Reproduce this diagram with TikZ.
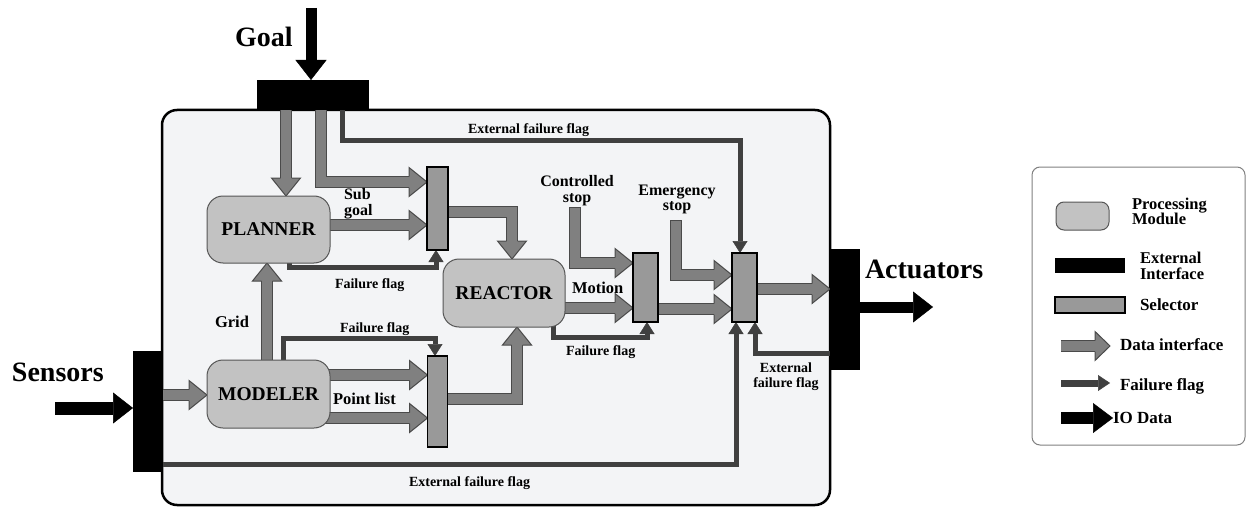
\documentclass[tikz,border=0pt]{standalone}
\usepackage{fontspec}
\setmainfont{Liberation Serif}
\usetikzlibrary{arrows.meta,calc}
\newcommand\tightlines{\lineskiplimit=-20pt\relax}
\definecolor{boxfill}{HTML}{F3F4F6}
\definecolor{modfill}{HTML}{C2C2C2}
\definecolor{modborder}{HTML}{555555}
\definecolor{selfill}{HTML}{999999}
\definecolor{datafill}{HTML}{808080}
\definecolor{dataline}{HTML}{4A4A4A}
\definecolor{flagc}{HTML}{404040}
\definecolor{legline}{HTML}{808080}
\pgfdeclarelayer{back}
\pgfdeclarelayer{conn}
\pgfsetlayers{back,conn,main}
\begin{document}
\begin{tikzpicture}[x=1pt,y=-1pt,
  every node/.style={inner sep=0pt, outer sep=0pt},
  mainbox/.style={draw=black, line width=2.5pt, fill=boxfill, rounded corners=15pt, minimum width=668pt, minimum height=395pt},
  extif/.style={fill=black, draw=none},
  module/.style={draw=modborder, fill=modfill, line width=1pt, rounded corners=16pt, minimum width=123pt, minimum height=67pt, font=\fontsize{19.5}{20}\selectfont\bfseries},
  selbox/.style={draw=black, fill=selfill, line width=1.8pt},
  dshaft/.style={draw=dataline, line width=1pt, double=datafill, double distance=10pt, line join=miter, shorten >=17pt},
  flag/.style={draw=flagc, line width=5pt, line join=miter, -{Triangle[width=15pt,length=12pt,line width=0.5pt]}},
  io/.style={draw=black, line width=11pt, -{Triangle[width=31pt,length=20pt,line width=0.5pt]}},
  lblbig/.style={font=\fontsize{28}{30}\selectfont\bfseries},
  lblmid/.style={font=\fontsize{16.5}{15.5}\selectfont\bfseries\tightlines},
  lblmidtwo/.style={font=\fontsize{16}{15.5}\selectfont\bfseries\tightlines},
  lblsmall/.style={font=\fontsize{14}{14.5}\selectfont\bfseries\tightlines},
  lblleg/.style={font=\fontsize{17}{15.5}\selectfont\bfseries\tightlines},
  lbllegtwo/.style={font=\fontsize{16.5}{15.5}\selectfont\bfseries\tightlines},
  dhead/.pic={
    \fill[datafill] (-18,-14.5) -- (0,0) -- (-18,14.5) -- cycle;
    \draw[dataline, line width=1pt, line join=miter] (-18,-5.5) -- (-18,-14.5) -- (0,0) -- (-18,14.5) -- (-18,5.5);
  },
  dheadsmall/.pic={
    \fill[datafill] (-15,-14.5) -- (0,0) -- (-15,14.5) -- cycle;
    \draw[dataline, line width=1pt, line join=miter] (-15,-5.5) -- (-15,-14.5) -- (0,0) -- (-15,14.5) -- (-15,5.5);
  }
]
\useasboundingbox (0,0) rectangle (1247,508);

\begin{pgfonlayer}{back}
\node[mainbox] (main) at (496,307.5) {};
\node[draw=legline, line width=1pt, fill=white, rounded corners=8pt, minimum width=213pt, minimum height=278pt] (leg) at (1138.5,306) {};
\end{pgfonlayer}

% external interfaces
\node[extif, minimum width=112pt, minimum height=30pt] (goalif) at (313,95) {};
\node[extif, minimum width=30pt, minimum height=121pt] (senseif) at (148,411.5) {};
\node[extif, minimum width=30pt, minimum height=121pt] (actif) at (845,309.5) {};

% modules
\node[module] (planner) at (268.5,229.5) {PLANNER};
\node[module, minimum height=68pt] (modeler) at (268.5,394) {MODELER};
\node[module, minimum width=122pt, minimum height=68pt] (reactor) at (504,293) {REACTOR};

% selectors
\node[selbox, minimum width=21pt, minimum height=83pt] (sel1) at (437.5,208.5) {};
\node[selbox, minimum width=20pt, minimum height=91pt] (sel2) at (437.5,401.5) {};
\node[selbox, minimum width=25pt, minimum height=69pt] (sel3) at (645.5,287.5) {};
\node[selbox, minimum width=25pt, minimum height=69pt] (sel4) at (744.5,287.5) {};

% labels
\node[lblbig, anchor=base west] (tgoal) at (235,47) {Goal};
\node[lblbig, anchor=base west] (tsens) at (12,381) {Sensors};
\node[lblbig, anchor=base west] (tact) at (865,278) {Actuators};

\node[lblmidtwo, align=left, anchor=north west] (tsub) at (344,188.4) {Sub\\goal};
\node[lblmid, anchor=base west] (tgrid) at (215,327) {Grid};
\node[lblmid, anchor=base west] (tpoint) at (333,404) {Point list};
\node[lblmidtwo, align=center, anchor=north] (tctrl) at (577,175.4) {Controlled\\stop};
\node[lblmidtwo, align=center, anchor=north] (temerg) at (677,184.6) {Emergency\\stop};
\node[lblmid, anchor=base west] (tmotion) at (572,293) {Motion};

\node[lblsmall, anchor=base west] (text1) at (468,133) {External failure flag};
\node[lblsmall, anchor=base west] (tff1) at (335,288) {Failure flag};
\node[lblsmall, anchor=base west] (tff2) at (340,332) {Failure flag};
\node[lblsmall, anchor=base west] (tff3) at (566,355) {Failure flag};
\node[lblsmall, anchor=base west] (text2) at (409,486) {External failure flag};
\node[lblsmall, align=center, anchor=north] (text3) at (786,363.2) {External\\failure flag};

% legend items
\node[draw=modborder, fill=modfill, line width=1pt, rounded corners=8pt, minimum width=53pt, minimum height=28pt] (lproc) at (1082.5,216) {};
\node[extif, minimum width=70pt, minimum height=15pt] (lext) at (1090,265.5) {};
\node[selbox, line width=1.2pt, minimum width=70pt, minimum height=16pt] (lsel) at (1090,305) {};
\node[lbllegtwo, align=left, anchor=north west] (tl1) at (1132,197.9) {Processing\\Module};
\node[lbllegtwo, align=left, anchor=north west] (tl2) at (1140,252.1) {External\\Interface};
\node[lblleg, anchor=base west] (tl3) at (1140,310) {Selector};
\node[lblleg, anchor=base west] (tl4) at (1120,350) {Data interface};
\node[lblleg, anchor=base west] (tl5) at (1120,390) {Failure flag};
\node[lblleg, anchor=base west] (tl6) at (1113,423) {IO Data};

% helper coordinates
\coordinate (xg1) at (286,0);
\coordinate (xg2) at (321,0);
\coordinate (yg2) at (0,182);
\coordinate (ya3) at (0,225);
\coordinate (ya4) at (0,212);
\coordinate (xa4) at (512,0);
\coordinate (xa5) at (267,0);
\coordinate (ya6) at (0,395);
\coordinate (ya7) at (0,375);
\coordinate (ya8) at (0,418);
\coordinate (ya9) at (0,399);
\coordinate (xa9) at (517,0);
\coordinate (ya10) at (0,308);
\coordinate (cs) at (575,207);
\coordinate (ya11) at (0,263);
\coordinate (ya12) at (0,309);
\coordinate (es) at (676,220);
\coordinate (ya13) at (0,275);
\coordinate (ya14) at (0,289);
\coordinate (xf1) at (342,0);
\coordinate (yf1) at (0,141);
\coordinate (xf1b) at (740,0);
\coordinate (xf2) at (289,0);
\coordinate (yf2) at (0,267);
\coordinate (xf2b) at (436,0);
\coordinate (xf3) at (283,0);
\coordinate (yf3) at (0,338);
\coordinate (xf3b) at (435,0);
\coordinate (xf4) at (553,0);
\coordinate (yf4) at (0,337);
\coordinate (xf4b) at (647,0);
\coordinate (yf5) at (0,464);
\coordinate (xf5) at (736,0);
\coordinate (yf6) at (0,353);
\coordinate (xf6) at (755,0);
\coordinate (goalin) at (311,8);
\coordinate (sensin) at (55,408);
\coordinate (actout) at (933,307);
\coordinate (ld1) at (1061,346);
\coordinate (ld2) at (1110,346);
\coordinate (lf1) at (1061,383);
\coordinate (lf2) at (1110,383);
\coordinate (li1) at (1061,418);
\coordinate (li2) at (1113,418);

\begin{pgfonlayer}{conn}
% data interfaces
\draw[dshaft] (goalif.south -| xg1) -- (planner.north -| xg1);
\draw[dshaft] (goalif.south -| xg2) -- (xg2 |- yg2) -- (sel1.west |- yg2);
\draw[dshaft] (planner.center |- ya3) -- (sel1.west |- ya3);
\draw[dshaft] (sel1.center |- ya4) -- (xa4 |- ya4) -- (reactor.north -| xa4);
\draw[dshaft] (modeler.center -| xa5) -- (planner.south -| xa5);
\draw[dshaft] (senseif.center |- ya6) -- (modeler.west |- ya6);
\draw[dshaft] (modeler.center |- ya7) -- (sel2.west |- ya7);
\draw[dshaft] (modeler.center |- ya8) -- (sel2.west |- ya8);
\draw[dshaft] (sel2.center |- ya9) -- (xa9 |- ya9) -- (reactor.south -| xa9);
\draw[dshaft] (reactor.center |- ya10) -- (sel3.west |- ya10);
\draw[dshaft] (cs) -- (cs |- ya11) -- (sel3.west |- ya11);
\draw[dataline, line width=1pt] ($(cs)+(-6,0)$) -- ($(cs)+(6,0)$);
\draw[dshaft] (sel3.center |- ya12) -- (sel4.west |- ya12);
\draw[dshaft] (es) -- (es |- ya13) -- (sel4.west |- ya13);
\draw[dataline, line width=1pt] ($(es)+(-6,0)$) -- ($(es)+(6,0)$);
\draw[dshaft] (sel4.center |- ya14) -- (actif.west |- ya14);

\pic[rotate=-90] at (planner.north -| xg1) {dhead};
\pic at (sel1.west |- yg2) {dhead};
\pic at (sel1.west |- ya3) {dhead};
\pic[rotate=-90] at (reactor.north -| xa4) {dhead};
\pic[rotate=90] at (planner.south -| xa5) {dhead};
\pic at (modeler.west |- ya6) {dhead};
\pic at (sel2.west |- ya7) {dhead};
\pic at (sel2.west |- ya8) {dhead};
\pic[rotate=90] at (reactor.south -| xa9) {dhead};
\pic at (sel3.west |- ya10) {dhead};
\pic at (sel3.west |- ya11) {dhead};
\pic at (sel4.west |- ya12) {dhead};
\pic at (sel4.west |- ya13) {dhead};
\pic at (actif.west |- ya14) {dhead};

% failure flags
\draw[flag] (goalif.center -| xf1) -- (xf1 |- yf1) -- (xf1b |- yf1) -- (sel4.north -| xf1b);
\draw[flag] (planner.center -| xf2) -- (xf2 |- yf2) -- (xf2b |- yf2) -- (sel1.south -| xf2b);
\draw[flag] (modeler.center -| xf3) -- (xf3 |- yf3) -- (xf3b |- yf3) -- (sel2.north -| xf3b);
\draw[flag] (reactor.center -| xf4) -- (xf4 |- yf4) -- (xf4b |- yf4) -- (sel3.south -| xf4b);
\draw[flag] (senseif.center |- yf5) -- (xf5 |- yf5) -- (sel4.south -| xf5);
\draw[flag] (actif.center |- yf6) -- (xf6 |- yf6) -- (sel4.south -| xf6);

% IO data
\draw[io] (goalin) -- (goalif.north -| goalin);
\draw[io, line width=13pt] (sensin) -- (senseif.west |- sensin);
\draw[io] (actif.center |- actout) -- (actout);

% legend arrows
\draw[dshaft, shorten >=14pt] (ld1) -- (ld2);
\pic at (ld2) {dheadsmall};
\draw[flag, line width=7pt, -{Triangle[width=16pt,length=12pt,line width=0.5pt]}] (lf1) -- (lf2);
\draw[io, line width=12pt, -{Triangle[width=30pt,length=20pt,line width=0.5pt]}] (li1) -- (li2);
\end{pgfonlayer}
\end{tikzpicture}
\end{document}
